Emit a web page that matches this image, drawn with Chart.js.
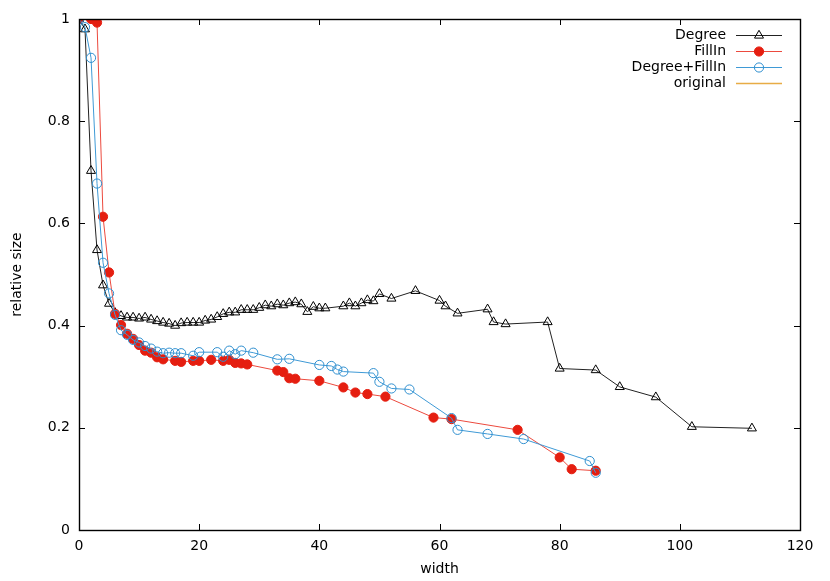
<!DOCTYPE html>
<html>
<head>
<meta charset="utf-8">
<script src="https://cdn.jsdelivr.net/npm/chart.js@4.4.1/dist/chart.umd.min.js"></script>
<style>
  html, body { margin: 0; padding: 0; background: #fff; }
</style>
</head>
<body>
<canvas id="plot" width="830" height="581"></canvas>
<script>
// values (width -> relative size)
const degreeX = [0, 1, 2, 3, 4, 5, 6, 7, 8, 9, 10, 11, 12, 13, 14, 15, 16, 17, 18, 19, 20,
  21, 22, 23, 24, 25, 26, 27, 28, 29, 30, 31, 32, 33, 34, 35, 36, 37, 38, 39, 40, 41,
  44, 45, 46, 47, 48, 49, 50, 52, 56, 60, 61, 63, 68, 69, 71, 78, 80, 86, 90, 96, 102, 112];
const degreeY = [1.0, 0.98, 0.703, 0.548, 0.479, 0.443, 0.425, 0.419, 0.416, 0.416, 0.414, 0.416, 0.412, 0.409, 0.406, 0.404, 0.400, 0.405, 0.406, 0.406, 0.406,
  0.410, 0.412, 0.417, 0.423, 0.426, 0.426, 0.431, 0.431, 0.431, 0.435, 0.440, 0.438, 0.442, 0.440, 0.444, 0.446, 0.442, 0.427, 0.437, 0.434, 0.434,
  0.438, 0.444, 0.438, 0.444, 0.450, 0.448, 0.462, 0.453, 0.468, 0.449, 0.438, 0.424, 0.432, 0.407, 0.403, 0.407, 0.316, 0.313, 0.280, 0.260, 0.202, 0.199];

const fillInX = [0, 2, 3, 4, 5, 6, 7, 8, 9, 10, 11, 12, 13, 14, 16, 17, 19, 20, 22, 24, 25, 26, 27, 28,
  33, 34, 35, 36, 40, 44, 46, 48, 51, 59, 62, 73, 80, 82, 86];
const fillInY = [1.0, 1.0, 0.993, 0.613, 0.504, 0.423, 0.401, 0.384, 0.374, 0.362, 0.351, 0.347, 0.338, 0.334, 0.331, 0.329, 0.331, 0.331, 0.333, 0.331, 0.333, 0.327, 0.326, 0.324,
  0.312, 0.309, 0.297, 0.296, 0.292, 0.279, 0.269, 0.266, 0.261, 0.220, 0.217, 0.196, 0.142, 0.119, 0.116];

const bothX = [0, 1, 2, 3, 4, 5, 6, 7, 8, 9, 10, 11, 12, 13, 14, 15, 16, 17, 19, 20, 23, 24, 25, 26, 27, 29,
  33, 35, 40, 42, 43, 44, 49, 50, 52, 55, 62, 63, 68, 74, 85, 86];
const bothY = [1.0, 0.984, 0.924, 0.678, 0.523, 0.463, 0.421, 0.391, 0.382, 0.372, 0.367, 0.360, 0.355, 0.349, 0.346, 0.347, 0.346, 0.346, 0.341, 0.348, 0.348, 0.339, 0.351, 0.344, 0.351, 0.347,
  0.334, 0.335, 0.323, 0.321, 0.314, 0.310, 0.307, 0.290, 0.277, 0.275, 0.219, 0.196, 0.188, 0.178, 0.135, 0.112];

const originalX = [];
const originalY = [];

const xTicks = [0, 20, 40, 60, 80, 100, 120];
const yTicks = [0, 0.2, 0.4, 0.6, 0.8, 1];

const FONT = "'DejaVu Sans', sans-serif";
const FONT_SIZE = 14;

function pts(xs, ys) {
  return xs.map((x, i) => ({ x: x, y: ys[i] }));
}

const series = [
  { label: 'Degree', color: '#000000', line: '#222222', style: 'triangle', fill: 'rgba(0,0,0,0)', radius: 5.2, x: degreeX, y: degreeY, order: 4 },
  { label: 'FillIn', color: '#e51e10', line: '#ec4a3e', style: 'circle', fill: '#e51e10', radius: 4.6, x: fillInX, y: fillInY, order: 3 },
  { label: 'Degree+FillIn', color: '#2f8fcf', line: '#3f9ad6', style: 'circle', fill: 'rgba(0,0,0,0)', radius: 4.6, x: bothX, y: bothY, order: 2 },
  { label: 'original', color: '#e6a53a', line: '#e8ac45', style: false, fill: 'rgba(0,0,0,0)', radius: 0, x: originalX, y: originalY, order: 1 }
];

// gnuplot like frame, inward ticks and key
const gnuplotLook = {
  id: 'gnuplotLook',
  afterDraw(chart) {
    const ctx = chart.ctx;
    const a = chart.chartArea;
    const xs = chart.scales.x, ys = chart.scales.y;
    const tl = 6;
    ctx.save();
    ctx.strokeStyle = '#000';
    ctx.lineWidth = 1;
    ctx.beginPath();
    for (const v of xTicks) {
      const px = Math.round(xs.getPixelForValue(v)) + 0.5;
      ctx.moveTo(px, a.bottom); ctx.lineTo(px, a.bottom - tl);
      ctx.moveTo(px, a.top); ctx.lineTo(px, a.top + tl);
    }
    for (const v of yTicks) {
      const py = Math.round(ys.getPixelForValue(v)) + 0.5;
      ctx.moveTo(a.left, py); ctx.lineTo(a.left + tl, py);
      ctx.moveTo(a.right, py); ctx.lineTo(a.right - tl, py);
    }
    ctx.stroke();
    ctx.lineWidth = 1.4;
    ctx.strokeRect(Math.round(a.left) + 0.5, Math.round(a.top) + 0.5,
      Math.round(a.right - a.left), Math.round(a.bottom - a.top));

    // key
    ctx.font = FONT_SIZE + 'px ' + FONT;
    ctx.textAlign = 'right';
    ctx.textBaseline = 'middle';
    const textRight = 726, lx1 = 736, lx2 = 782;
    series.forEach((s, i) => {
      const y = 35 + i * 16;
      ctx.fillStyle = '#000';
      ctx.fillText(s.label, textRight, y);
      ctx.strokeStyle = s.line;
      ctx.lineWidth = s.style ? 1.2 : 1.6;
      ctx.beginPath();
      ctx.moveTo(lx1, y + 0.5); ctx.lineTo(lx2, y + 0.5);
      ctx.stroke();
      if (s.style) {
        ctx.save();
        ctx.fillStyle = s.fill;
        ctx.strokeStyle = s.color;
        ctx.lineWidth = 1;
        Chart.helpers.drawPoint(ctx, { pointStyle: s.style, radius: s.radius, borderWidth: 1 },
          (lx1 + lx2) / 2, y + 0.5);
        ctx.restore();
      }
    });
    ctx.restore();
  }
};

const tickFont = { family: FONT, size: FONT_SIZE };

new Chart(document.getElementById('plot'), {
  type: 'line',
  data: {
    datasets: series.map(s => ({
      label: s.label,
      data: pts(s.x, s.y),
      borderColor: s.line,
      backgroundColor: s.fill,
      pointBorderColor: s.color,
      pointBackgroundColor: s.fill,
      pointStyle: s.style,
      pointRadius: s.radius,
      pointBorderWidth: 1,
      borderWidth: 1,
      tension: 0,
      fill: false,
      order: s.order
    }))
  },
  options: {
    responsive: false,
    animation: false,
    events: [],
    layout: { padding: { left: 0, top: 19, right: 30, bottom: 0 } },
    plugins: { legend: { display: false }, tooltip: { enabled: false } },
    scales: {
      x: {
        type: 'linear', min: 0, max: 120,
        afterFit(scale) { scale.height = 51; },
        afterBuildTicks(scale) { scale.ticks = xTicks.map(v => ({ value: v })); },
        grid: { display: false, drawTicks: false },
        border: { display: false },
        ticks: { padding: 8, color: '#000', font: tickFont, callback: v => String(v) },
        title: { display: true, text: 'width', color: '#000', padding: { top: 0, bottom: 3 }, font: tickFont }
      },
      y: {
        type: 'linear', min: 0, max: 1,
        afterFit(scale) { scale.width = 79; },
        afterBuildTicks(scale) { scale.ticks = yTicks.map(v => ({ value: v })); },
        grid: { display: false, drawTicks: false },
        border: { display: false },
        ticks: { padding: 9, color: '#000', font: tickFont, callback: v => String(+v.toFixed(1)) },
        title: { display: true, text: 'relative size', color: '#000', padding: { top: 9, bottom: 0 }, font: tickFont }
      }
    }
  },
  plugins: [gnuplotLook]
});
</script>
</body>
</html>
